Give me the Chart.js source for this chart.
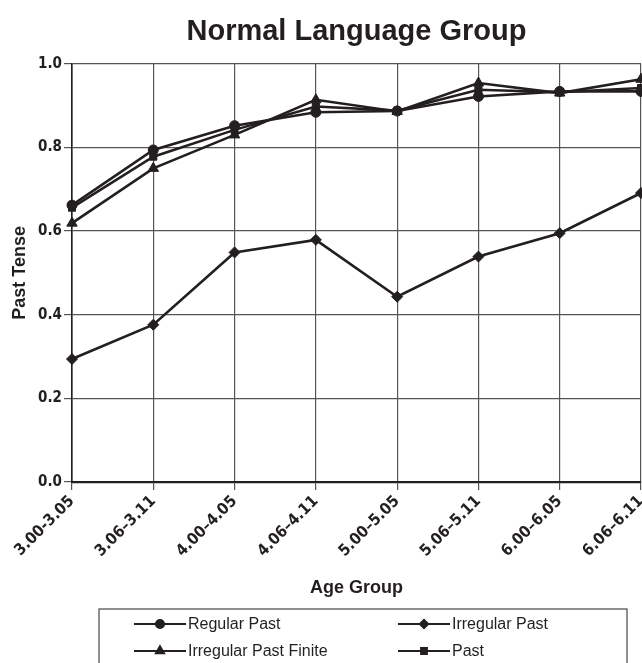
<!DOCTYPE html>
<html lang="en">
<head>
    <meta charset="UTF-8">
    <title>Normal Language Group</title>
    <script src="https://cdn.jsdelivr.net/npm/chart.js"></script>
    <style>
        html, body { margin: 0; padding: 0; background: #fff; overflow: hidden; }
        .wrap { width: 642px; height: 663px; position: relative; }
    </style>
</head>
<body>
    <div class="wrap">
        <canvas id="chart" width="642" height="663"></canvas>
    </div>

    <script>
        // data
        const ageGroups = ['3.00-3.05', '3.06–3.11', '4.00–4.05', '4.06–4.11', '5.00–5.05', '5.06–5.11', '6.00–6.05', '6.06–6.11'];
        const regularPast = [0.662, 0.794, 0.852, 0.884, 0.887, 0.922, 0.934, 0.934];
        const irregularPast = [0.294, 0.376, 0.549, 0.579, 0.443, 0.539, 0.595, 0.691];
        const irregularPastFinite = [0.619, 0.750, 0.830, 0.914, 0.886, 0.954, 0.930, 0.963];
        const past = [0.656, 0.778, 0.842, 0.898, 0.888, 0.938, 0.932, 0.942];
        const yTicks = [0, 0.2, 0.4, 0.6, 0.8, 1.0];

        const ink = '#231f20';
        const narrow = '"Liberation Sans Narrow", "DejaVu Sans Condensed", "Arial Narrow", sans-serif';
        const sans = '"Liberation Sans", Arial, Helvetica, sans-serif';

        function series(label, data, style, radius) {
            return {
                label: label,
                data: data,
                borderColor: ink,
                backgroundColor: ink,
                borderWidth: 2.6,
                pointStyle: style,
                pointRadius: radius,
                pointHoverRadius: radius,
                pointBackgroundColor: ink,
                pointBorderColor: ink,
                pointBorderWidth: 1,
                tension: 0
            };
        }

        // boxed two-column legend at the bottom
        const boxLegend = {
            id: 'boxLegend',
            afterDraw(chart) {
                const ctx = chart.ctx;
                const cols = [134, 398];
                const rows = [624, 651];
                const small = { circle: 4, rectRot: 4, triangle: 4.5, rect: 4 };
                ctx.save();
                ctx.strokeStyle = '#555';
                ctx.lineWidth = 1.3;
                ctx.strokeRect(99, 609, 528, 80);
                ctx.font = '16px ' + sans;
                ctx.textBaseline = 'middle';
                chart.data.datasets.forEach((ds, i) => {
                    const x = cols[i % 2];
                    const y = rows[Math.floor(i / 2)];
                    ctx.strokeStyle = ink;
                    ctx.lineWidth = 2.2;
                    ctx.beginPath();
                    ctx.moveTo(x, y);
                    ctx.lineTo(x + 52, y);
                    ctx.stroke();
                    ctx.fillStyle = ink;
                    Chart.helpers.drawPoint(ctx, {
                        pointStyle: ds.pointStyle,
                        radius: small[ds.pointStyle],
                        borderWidth: 1,
                        rotation: 0
                    }, x + 26, y);
                    ctx.fillText(ds.label, x + 54, y + 1);
                });
                ctx.restore();
            }
        };

        new Chart(document.getElementById('chart'), {
            type: 'line',
            data: {
                labels: ageGroups,
                datasets: [
                    series('Regular Past', regularPast, 'circle', 5),
                    series('Irregular Past', irregularPast, 'rectRot', 5.5),
                    series('Irregular Past Finite', irregularPastFinite, 'triangle', 6),
                    series('Past', past, 'rect', 5)
                ]
            },
            options: {
                responsive: false,
                animation: false,
                layout: { autoPadding: false, padding: { left: 0, right: 1, top: 0, bottom: 60 } },
                plugins: {
                    legend: { display: false },
                    tooltip: { enabled: false },
                    title: {
                        display: true,
                        fullSize: false,
                        text: 'Normal Language Group',
                        color: ink,
                        font: { family: sans, size: 29, weight: 'bold' },
                        padding: { top: 15, bottom: 14 }
                    }
                },
                scales: {
                    x: {
                        offset: false,
                        grid: { color: '#555', lineWidth: 1.2, tickLength: 8, drawTicks: true },
                        border: { color: ink, width: 2.2 },
                        ticks: {
                            color: ink,
                            font: { family: narrow, size: 16, weight: 'bold' },
                            minRotation: 45,
                            maxRotation: 45,
                            autoSkip: false,
                            padding: 2
                        },
                        title: {
                            display: true,
                            text: 'Age Group',
                            color: ink,
                            font: { family: sans, size: 18, weight: 'bold' },
                            padding: { top: 0, bottom: 4 }
                        },
                        afterFit(scale) {
                            scale.height = 121;
                            scale.paddingLeft = 0;
                            scale.paddingRight = 0;
                        }
                    },
                    y: {
                        min: 0,
                        max: 1,
                        afterBuildTicks(scale) {
                            scale.ticks = yTicks.map(v => ({ value: v }));
                        },
                        grid: { color: '#555', lineWidth: 1.2, tickLength: 8 },
                        border: { color: ink, width: 1.6 },
                        ticks: {
                            color: ink,
                            font: { family: narrow, size: 15, weight: 'bold' },
                            padding: 2,
                            callback: v => v.toFixed(1)
                        },
                        title: {
                            display: true,
                            text: 'Past Tense',
                            color: ink,
                            font: { family: sans, size: 18, weight: 'bold' },
                            padding: { top: 9, bottom: 0 }
                        },
                        afterFit(scale) {
                            scale.width = 72;
                        }
                    }
                }
            },
            plugins: [boxLegend]
        });
    </script>
</body>
</html>
